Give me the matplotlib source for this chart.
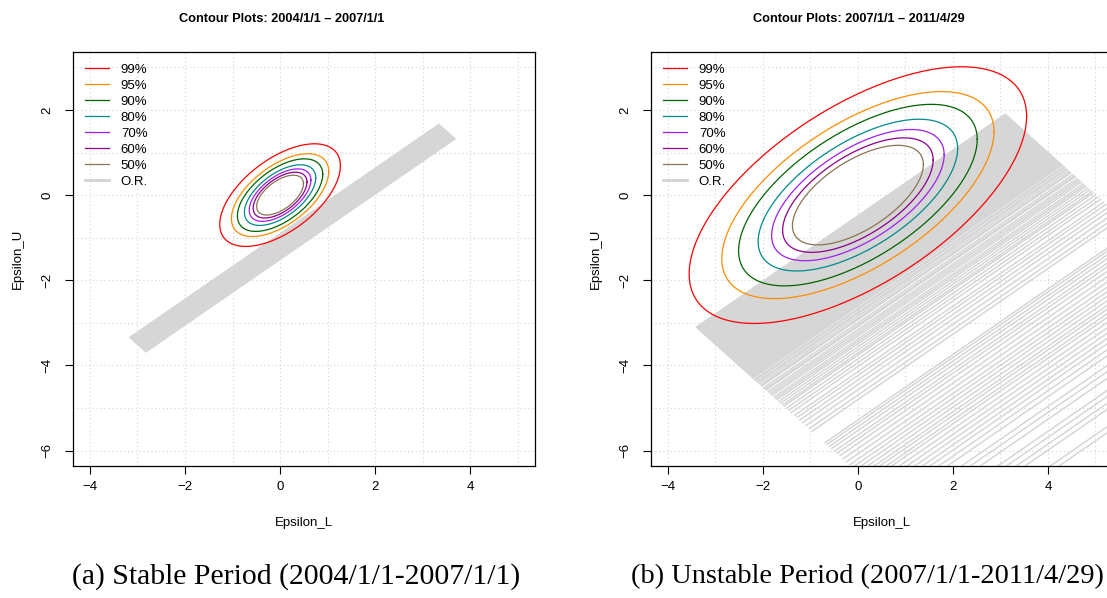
import numpy as np
import matplotlib.pyplot as plt

W, H = 1107, 598

# contour levels of the fitted bivariate normal
levels = [0.99, 0.95, 0.90, 0.80, 0.70, 0.60, 0.50]
level_labels = ["99%", "95%", "90%", "80%", "70%", "60%", "50%"]
level_colors = ["#FF0000", "#FF8C00", "#006400", "#008B8B", "#A020F0", "#8B008B", "#8B7355"]
or_color = "#D3D3D3"

# (sd of Epsilon_L, sd of Epsilon_U, correlation) for each period
stable_fit = (0.418, 0.397, 0.57)
unstable_fit = (1.17, 0.993, 0.614)

# O.R. segments: each starts on Epsilon_L + Epsilon_U = OR_START_SUM
# and runs OR_DX to the right, OR_DY up
OR_START_SUM = -6.5
OR_DX = 6.5
OR_DY = 5.0

stable_or_start = [
    -3.16, -3.14, -3.12, -3.10, -3.08, -3.06, -3.04, -3.02, -3.00,
    -2.98, -2.96, -2.94, -2.92, -2.90, -2.88, -2.86, -2.84, -2.82,
]

unstable_or_start = [
    -3.40, -3.38, -3.36, -3.34, -3.32, -3.30, -3.28, -3.26, -3.24, -3.22,
    -3.20, -3.18, -3.16, -3.14, -3.12, -3.10, -3.08, -3.06, -3.04, -3.02,
    -3.00, -2.98, -2.96, -2.94, -2.92, -2.90, -2.88, -2.86, -2.84, -2.82,
    -2.80, -2.78, -2.76, -2.74, -2.72, -2.70, -2.68, -2.66, -2.64, -2.62,
    -2.60, -2.58, -2.56, -2.54, -2.52, -2.50, -2.48, -2.46, -2.44, -2.42,
    -2.40, -2.38, -2.36, -2.34, -2.32, -2.30, -2.28, -2.26, -2.24, -2.22, -2.20,
    -2.17, -2.15, -2.12, -2.10, -2.07, -2.04, -2.02, -1.98, -1.95, -1.93,
    -1.89, -1.86, -1.83, -1.80, -1.76, -1.73, -1.70, -1.66, -1.62, -1.58,
    -1.55, -1.50,
    -1.45, -1.40, -1.33, -1.28, -1.22, -1.16, -1.09, -1.02, -0.96,
    -0.69, -0.65, -0.60, -0.55, -0.49, -0.44, -0.38, -0.31, -0.24, -0.17,
    -0.11, -0.05, 0.01, 0.07, 0.12, 0.18, 0.23, 0.30, 0.37, 0.44, 0.51,
    0.58, 0.66, 0.74, 0.87, 0.95, 1.04, 1.20, 1.28, 1.37, 1.45, 1.68, 1.76,
]

titles = ["Contour Plots: 2004/1/1 \u2013 2007/1/1", "Contour Plots: 2007/1/1 \u2013 2011/4/29"]
captions = ["(a) Stable Period (2004/1/1-2007/1/1)", "(b) Unstable Period (2007/1/1-2011/4/29)"]

SANS = "Liberation Sans"
SERIF = "Liberation Serif"
plt.rcParams['font.family'] = [SANS, 'DejaVu Sans']


def ellipse(fit, p, n=300):
    sx, sy, rho = fit
    r = np.sqrt(-2 * np.log(1 - p))
    cov = np.array([[sx * sx, rho * sx * sy], [rho * sx * sy, sy * sy]])
    L = np.linalg.cholesky(cov)
    t = np.linspace(0, 2 * np.pi, n)
    pts = r * (L @ np.vstack([np.cos(t), np.sin(t)]))
    return pts[0], pts[1]


def draw_panel(ax, fit, or_start):
    ax.set_xlim(-4.36, 5.36)
    ax.set_ylim(-6.36, 3.36)
    for g in range(-4, 6):
        ax.axvline(g, color=or_color, lw=0.8, ls=(0, (1, 2.5)), zorder=0)
    for g in range(-6, 4):
        ax.axhline(g, color=or_color, lw=0.8, ls=(0, (1, 2.5)), zorder=0)

    for x0 in or_start:
        y0 = OR_START_SUM - x0
        ax.plot([x0, x0 + OR_DX], [y0, y0 + OR_DY], color=or_color, lw=1.0, zorder=1)

    handles = []
    for p, lab, c in zip(levels, level_labels, level_colors):
        ex, ey = ellipse(fit, p)
        h, = ax.plot(ex, ey, color=c, lw=0.9, label=lab, zorder=2)
        handles.append(h)
    h_or, = ax.plot([], [], color=or_color, lw=2.0, label="O.R.")
    handles.append(h_or)

    ax.legend(handles=handles, loc='upper left', frameon=False, fontsize=9.5,
              handlelength=1.85, handletextpad=0.9, labelspacing=0.28,
              borderaxespad=0.3, borderpad=0.6)

    ax.set_xticks([-4, -2, 0, 2, 4])
    ax.set_yticks([-6, -4, -2, 0, 2])
    ax.tick_params(length=6, width=0.8, labelsize=9.5, direction='out')
    ax.tick_params(axis='x', pad=5)
    ax.tick_params(axis='y', pad=8, labelrotation=90)
    for lbl in ax.get_yticklabels():
        lbl.set_va('center')
    for s in ax.spines.values():
        s.set_linewidth(0.9)


fig = plt.figure(figsize=(W / 100, H / 100), dpi=100)

ax_left = fig.add_axes([72.7 / W, 1 - 466 / H, (535 - 72.7) / W, 414 / H])
ax_right = fig.add_axes([650.7 / W, 1 - 466 / H, (1112.6 - 650.7) / W, 414 / H])

draw_panel(ax_left, stable_fit, stable_or_start)
draw_panel(ax_right, unstable_fit, unstable_or_start)

title_x = [281.5, 859]
label_x = [304, 881.6]
ylabel_x = [18, 596]
caption_x = [296, 867]
caption_size = [21.4, 20.4]
for i in range(2):
    fig.text(title_x[i] / W, 1 - 19 / H, titles[i], ha='center', va='center',
             fontsize=9.2, fontweight='bold')
    fig.text(label_x[i] / W, 1 - 523 / H, "Epsilon_L", ha='center', va='center', fontsize=9.5)
    fig.text(ylabel_x[i] / W, 1 - 259 / H, "Epsilon_U", ha='center', va='center',
             rotation=90, fontsize=9.5)
    fig.text(caption_x[i] / W, 1 - 577 / H, captions[i], ha='center', va='center',
             fontsize=caption_size[i], family=SERIF)

fig.savefig("out.png", dpi=100)
